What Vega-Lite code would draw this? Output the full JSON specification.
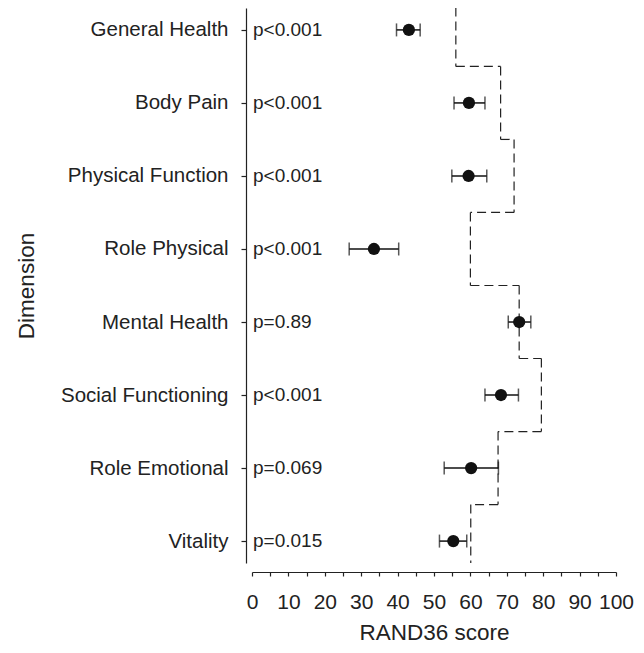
{
  "$schema": "https://vega.github.io/schema/vega-lite/v6.json",
  "autosize": "none",
  "width": 364,
  "height": 555,
  "padding": {"left": 252, "top": 8, "right": 28, "bottom": 90},
  "background": "white",
  "config": {
    "view": {"stroke": null},
    "font": "Liberation Sans",
    "axis": {"grid": false, "domainColor": "#222", "tickColor": "#222", "labelColor": "#222", "titleColor": "#222", "domainWidth": 1.2, "tickWidth": 1.2, "titleFontWeight": "normal"}
  },
  "data": {
    "values": [
      {"dim": "General Health", "mean": 43.1, "lo": 39.7, "hi": 46.2, "ref": 56.0, "p": "p<0.001"},
      {"dim": "Body Pain", "mean": 59.6, "lo": 55.5, "hi": 64.0, "ref": 68.3, "p": "p<0.001"},
      {"dim": "Physical Function", "mean": 59.5, "lo": 54.9, "hi": 64.5, "ref": 72.0, "p": "p<0.001"},
      {"dim": "Role Physical", "mean": 33.5, "lo": 26.7, "hi": 40.3, "ref": 60.0, "p": "p<0.001"},
      {"dim": "Mental Health", "mean": 73.4, "lo": 70.4, "hi": 76.6, "ref": 73.4, "p": "p=0.89"},
      {"dim": "Social Functioning", "mean": 68.4, "lo": 64.0, "hi": 73.2, "ref": 79.5, "p": "p<0.001"},
      {"dim": "Role Emotional", "mean": 60.2, "lo": 52.8, "hi": 67.7, "ref": 67.6, "p": "p=0.069"},
      {"dim": "Vitality", "mean": 55.3, "lo": 51.5, "hi": 59.0, "ref": 60.1, "p": "p=0.015"}
    ]
  },
  "encoding": {
    "y": {
      "field": "dim", "type": "nominal", "sort": null,
      "scale": {"type": "point", "padding": 0.3},
      "axis": {
        "title": "Dimension", "offset": 6, "tickSize": 5, "labelPadding": 13, "labelFontSize": 20.5,
        "titleFontSize": 22.5, "titleAngle": -90, "titleX": -213, "titleY": 277.5, "titleBaseline": "alphabetic", "titleAlign": "center"
      }
    }
  },
  "layer": [
    {
      "mark": {"type": "rule", "strokeDash": [9, 5], "color": "#222", "strokeWidth": 1.2, "yOffset": -36.5, "y2Offset": 36.5, "clip": true},
      "encoding": {
        "y2": {"field": "dim"},
        "x": {
          "field": "ref", "type": "quantitative",
          "scale": {"domain": [0, 100], "nice": false},
          "axis": {"title": "RAND36 score", "offset": 9, "tickSize": 4, "labelPadding": 15, "labelFontSize": 21, "values": [0,5,10,15,20,25,30,35,40,45,50,55,60,65,70,75,80,85,90,95,100], "labelExpr": "datum.value % 10 === 0 ? datum.label : ''", "labelOverlap": false, "labelFlush": false, "labelSeparation": 0, "titleFontSize": 22.5, "titleX": 182, "titleY": 67, "titleBaseline": "alphabetic", "titleAlign": "center"}
        }
      }
    },
    {
      "transform": [
        {"window": [{"op": "lead", "field": "ref", "as": "next_ref"}]},
        {"filter": "datum.next_ref != null"}
      ],
      "mark": {"type": "rule", "strokeDash": [9, 5], "color": "#222", "strokeWidth": 1.2, "yOffset": 36.5},
      "encoding": {
        "x": {"field": "ref", "type": "quantitative",
          "axis": {"title": "RAND36 score", "offset": 9, "tickSize": 4, "labelPadding": 15, "labelFontSize": 21, "values": [0,5,10,15,20,25,30,35,40,45,50,55,60,65,70,75,80,85,90,95,100], "labelExpr": "datum.value % 10 === 0 ? datum.label : ''", "labelOverlap": false, "labelFlush": false, "labelSeparation": 0, "titleFontSize": 22.5, "titleX": 182, "titleY": 67, "titleBaseline": "alphabetic", "titleAlign": "center"}},
        "x2": {"field": "next_ref"}
      }
    },
    {
      "mark": {"type": "rule", "color": "#111", "strokeWidth": 1.5},
      "encoding": {
        "x": {"field": "lo", "type": "quantitative",
          "axis": {"title": "RAND36 score", "offset": 9, "tickSize": 4, "labelPadding": 15, "labelFontSize": 21, "values": [0,5,10,15,20,25,30,35,40,45,50,55,60,65,70,75,80,85,90,95,100], "labelExpr": "datum.value % 10 === 0 ? datum.label : ''", "labelOverlap": false, "labelFlush": false, "labelSeparation": 0, "titleFontSize": 22.5, "titleX": 182, "titleY": 67, "titleBaseline": "alphabetic", "titleAlign": "center"}},
        "x2": {"field": "hi"}
      }
    },
    {
      "transform": [{"fold": ["lo", "hi"], "as": ["end", "val"]}],
      "mark": {"type": "tick", "orient": "vertical", "size": 13, "thickness": 1.5, "color": "#111"},
      "encoding": {
        "x": {"field": "val", "type": "quantitative",
          "axis": {"title": "RAND36 score", "offset": 9, "tickSize": 4, "labelPadding": 15, "labelFontSize": 21, "values": [0,5,10,15,20,25,30,35,40,45,50,55,60,65,70,75,80,85,90,95,100], "labelExpr": "datum.value % 10 === 0 ? datum.label : ''", "labelOverlap": false, "labelFlush": false, "labelSeparation": 0, "titleFontSize": 22.5, "titleX": 182, "titleY": 67, "titleBaseline": "alphabetic", "titleAlign": "center"}}
      }
    },
    {
      "mark": {"type": "circle", "size": 150, "color": "#111", "opacity": 1},
      "encoding": {
        "x": {"field": "mean", "type": "quantitative",
          "axis": {"title": "RAND36 score", "offset": 9, "tickSize": 4, "labelPadding": 15, "labelFontSize": 21, "values": [0,5,10,15,20,25,30,35,40,45,50,55,60,65,70,75,80,85,90,95,100], "labelExpr": "datum.value % 10 === 0 ? datum.label : ''", "labelOverlap": false, "labelFlush": false, "labelSeparation": 0, "titleFontSize": 22.5, "titleX": 182, "titleY": 67, "titleBaseline": "alphabetic", "titleAlign": "center"}}
      }
    },
    {
      "mark": {"type": "text", "align": "left", "baseline": "middle", "dx": 1, "fontSize": 19, "color": "#222"},
      "encoding": {
        "x": {"datum": 0, "type": "quantitative",
          "axis": {"title": "RAND36 score", "offset": 9, "tickSize": 4, "labelPadding": 15, "labelFontSize": 21, "values": [0,5,10,15,20,25,30,35,40,45,50,55,60,65,70,75,80,85,90,95,100], "labelExpr": "datum.value % 10 === 0 ? datum.label : ''", "labelOverlap": false, "labelFlush": false, "labelSeparation": 0, "titleFontSize": 22.5, "titleX": 182, "titleY": 67, "titleBaseline": "alphabetic", "titleAlign": "center"}},
        "text": {"field": "p"}
      }
    }
  ]
}
